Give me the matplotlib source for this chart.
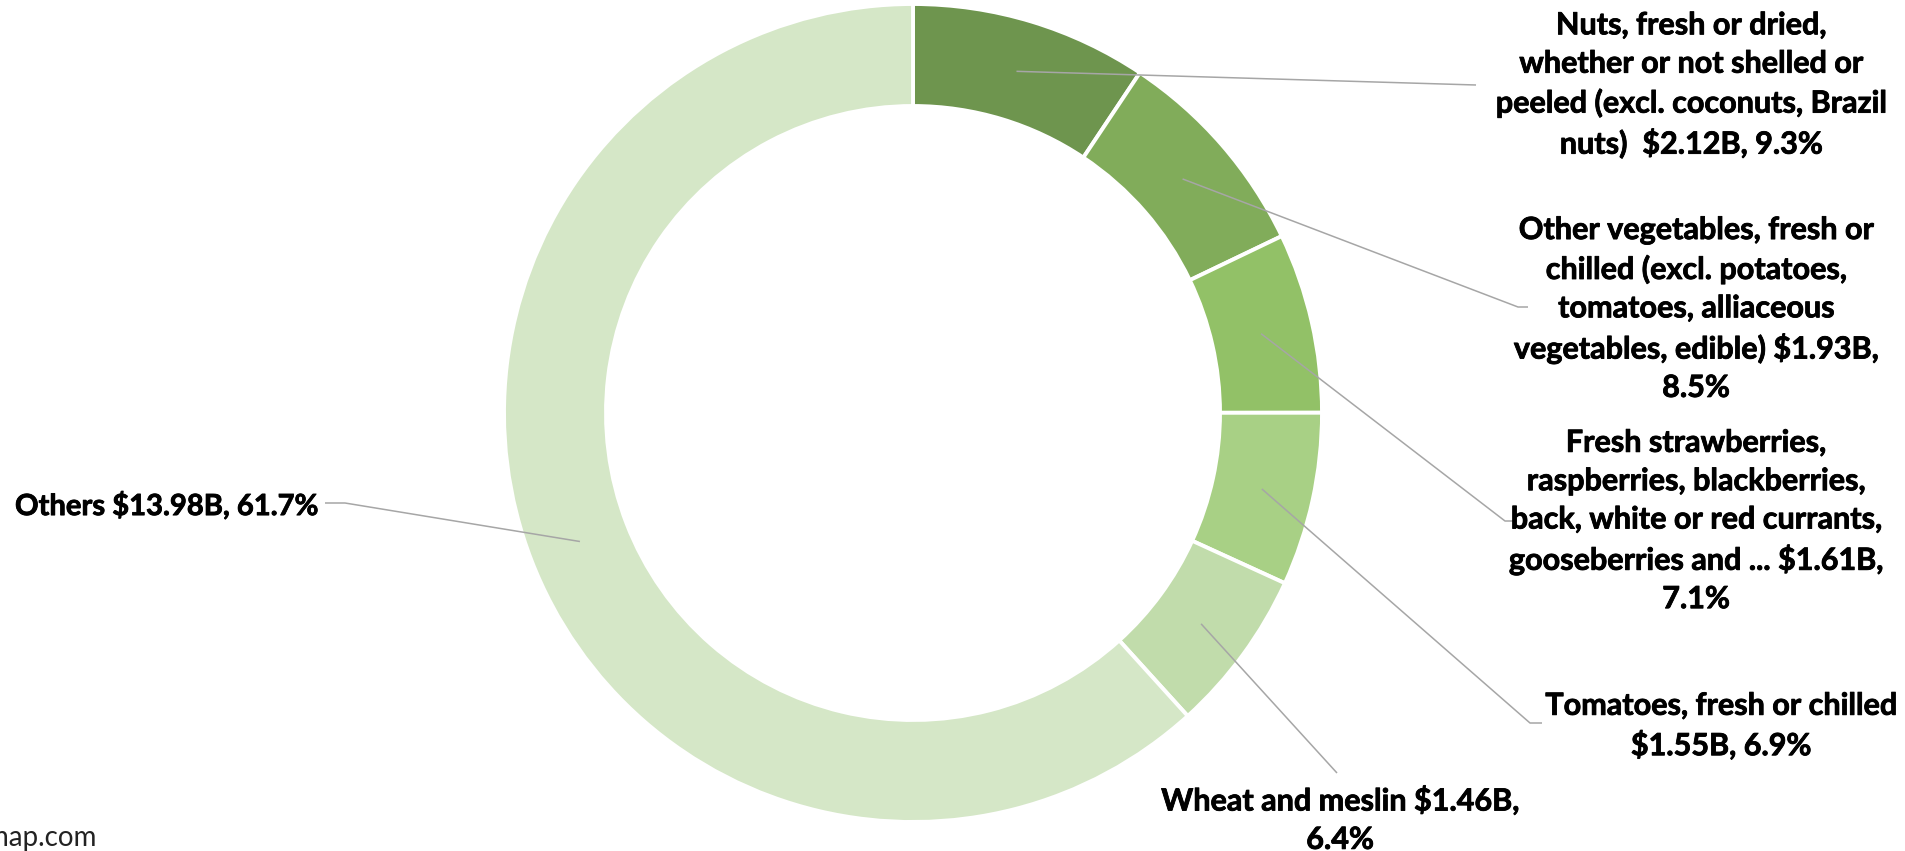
import matplotlib
matplotlib.use("Agg")
import matplotlib.pyplot as plt
import matplotlib.patheffects as pe
import numpy as np

# Export value by product group (billions USD) and share of total (%)
categories = [
    "Nuts, fresh or dried,\nwhether or not shelled or\npeeled (excl. coconuts, Brazil\nnuts) ",
    "Other vegetables, fresh or\nchilled (excl. potatoes,\ntomatoes, alliaceous\nvegetables, edible)",
    "Fresh strawberries,\nraspberries, blackberries,\nback, white or red currants,\ngooseberries and ...",
    "Tomatoes, fresh or chilled\n",
    "Wheat and meslin",
    "Others",
]
values_bn = [2.12, 1.93, 1.61, 1.55, 1.46, 13.98]
shares_pct = [9.3, 8.5, 7.1, 6.9, 6.4, 61.7]
# separator between the value and the share in each label
value_share_sep = [" ", "\n", "\n", " ", "\n", " "]

colors = ["#6E954E", "#81AC5A", "#92C167", "#A8D085", "#C1DCAB", "#D5E7C7"]

W, H = 1906, 851
fig = plt.figure(figsize=(W / 100, H / 100), dpi=100)
ax = fig.add_axes([0, 0, 1, 1])

cx, cy = 913, 413          # ring centre (px from top-left)
r_out, ring_w = 409, 102


def Y(py):
    return H - py


wedges, _ = ax.pie(
    values_bn,
    colors=colors,
    startangle=90,
    counterclock=False,
    center=(cx, Y(cy)),
    radius=r_out,
    wedgeprops=dict(width=ring_w, edgecolor="white", linewidth=2.8),
)

ax.set_xlim(0, W)
ax.set_ylim(0, H)
ax.set_aspect("auto")
ax.axis("off")

heavy = [pe.withStroke(linewidth=0.6, foreground="black")]
font = dict(family=["Lato", "DejaVu Sans"], fontweight="bold", color="black")

# label centres and leader-line routes (px from top-left)
label_pos = [(1691, 85), (1696, 309), (1696, 521), (1721, 726), (1340, 820), (15, 506)]
label_ha = ["center", "center", "center", "center", "center", "left"]
label_size = [22, 22, 22, 22, 22, 21]
leader_ends = [
    [(1476, 85)],
    [(1518, 307), (1528, 307)],
    [(1505, 521), (1517, 521)],
    [(1530, 723), (1542, 723)],
    [(1337, 773)],
    [(345, 503), (325, 503)],
]

r_mid = r_out - ring_w / 2 - 1
for w, name, v, p, sep, pos, ha, fs, ends in zip(
    wedges, categories, values_bn, shares_pct, value_share_sep,
    label_pos, label_ha, label_size, leader_ends
):
    ang = np.deg2rad((w.theta1 + w.theta2) / 2)
    sx = cx + r_mid * np.cos(ang)
    sy = Y(cy) + r_mid * np.sin(ang)
    xs = [sx] + [e[0] for e in ends]
    ys = [sy] + [Y(e[1]) for e in ends]
    ax.plot(xs, ys, color="#A6A6A6", lw=1.1, solid_capstyle="butt")

    if name.endswith("\n"):
        text = f"{name}${v:.2f}B,{sep}{p:.1f}%"
    else:
        text = f"{name} ${v:.2f}B,{sep}{p:.1f}%"
    ax.text(pos[0], Y(pos[1]), text, ha=ha, va="center", fontsize=fs,
            multialignment="center", linespacing=1.45, path_effects=heavy, **font)

# source credit, partly outside the canvas on the left
ax.text(97, Y(838), "www.tradeimap.com", ha="right", va="center",
        fontsize=20, family=["Lato", "DejaVu Sans"], color="#222222")

fig.savefig("out.png", dpi=100)
